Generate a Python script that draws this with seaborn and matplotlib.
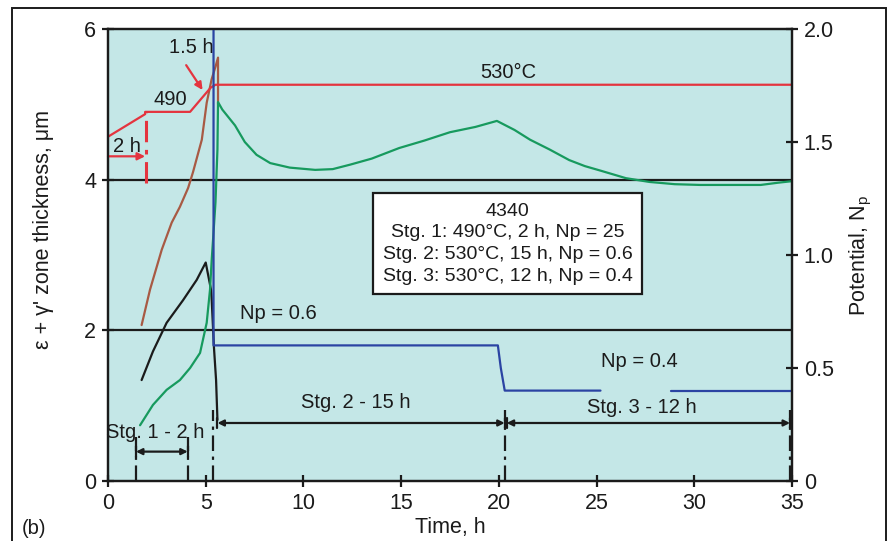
import matplotlib
matplotlib.use("Agg")
import matplotlib.pyplot as plt
from matplotlib.patches import Rectangle
import numpy as np
import pandas as pd
import seaborn as sns

# ---- data -------------------------------------------------------------
# brown trace (stage 1, 490 °C, Np = 25)
brown_t = [1.72, 2.15, 2.75, 3.26, 3.68, 4.10, 4.35, 4.80, 5.05, 5.30, 5.50, 5.63, 5.63]
brown_y = [2.07, 2.54, 3.07, 3.43, 3.64, 3.89, 4.10, 4.53, 5.02, 5.33, 5.50, 5.62, 5.00]

# black trace
black_t = [1.72, 2.30, 3.00, 3.84, 4.54, 5.00, 5.27, 5.30, 5.42, 5.53, 5.60]
black_y = [1.34, 1.72, 2.10, 2.40, 2.67, 2.90, 2.54, 2.44, 1.78, 1.34, 0.81]

# green trace (full three-stage cycle)
green_t = [1.64, 2.30, 3.00, 3.68, 4.20, 4.71, 5.05, 5.22, 5.31, 5.40, 5.50, 5.60, 5.63,
           5.85, 6.50, 7.00, 7.60, 8.30, 9.30, 10.6, 11.5, 12.4, 13.5, 14.9, 16.2, 17.5,
           18.8, 19.9, 20.8, 21.6, 22.6, 23.6, 24.4, 25.2, 26.5, 27.7, 29.0, 30.3, 31.8,
           33.4, 34.3, 35.0]
green_y = [0.74, 1.01, 1.21, 1.34, 1.50, 1.70, 2.10, 2.54, 2.95, 3.30, 3.70, 4.40, 5.03,
           4.93, 4.72, 4.50, 4.33, 4.22, 4.16, 4.13, 4.14, 4.20, 4.28, 4.42, 4.52, 4.63,
           4.70, 4.78, 4.66, 4.53, 4.40, 4.26, 4.18, 4.12, 4.02, 3.97, 3.94, 3.93, 3.93,
           3.93, 3.96, 3.98]

# temperature trace, plotted against the thickness axis
temp_t = [0.0, 1.90, 1.90, 4.20, 5.25, 5.50, 35.0]
temp_y = [4.57, 4.87, 4.90, 4.90, 5.22, 5.26, 5.26]

# nitriding potential (right axis)
np_t = [5.40, 5.40, 19.95, 20.10, 20.30, 25.2, 28.8, 35.0]
np_v = [25.0, 0.60, 0.60, 0.50, 0.40, 0.40, 0.40, 0.40]
np_seg = [0, 0, 0, 0, 0, 0, 1, 1]

# stage boundaries (h)
stage1_bounds = [1.43, 4.08]
stage2_bounds = [5.60, 20.30]
stage3_bounds = [20.30, 34.90]
stage_marks = [5.37, 20.30, 34.90]

x_ticks = [0, 5, 10, 15, 20, 25, 30, 35]
y_ticks = [0, 2, 4, 6]
np_ticks = [0, 0.5, 1.0, 1.5, 2.0]
np_ticklabels = ["0", "0.5", "1.0", "1.5", "2.0"]

box_lines = ["4340",
             "Stg. 1: 490°C, 2 h, Np = 25",
             "Stg. 2: 530°C, 15 h, Np = 0.6",
             "Stg. 3: 530°C, 12 h, Np = 0.4"]

# ---- style ------------------------------------------------------------
sns.set_theme(style="ticks")
plt.rcParams["font.family"] = ["Liberation Sans", "DejaVu Sans"]
plt.rcParams["mathtext.fontset"] = "custom"
plt.rcParams["mathtext.rm"] = "Liberation Sans"

BG = "#c4e7e7"
RED = "#e4343f"
BLUE = "#2b44a3"
GREEN = "#179a5e"
BROWN = "#a85a44"
INK = "#1b1b1b"
DASHDOT = (0, (7, 2.5, 1.5, 2.5))
FS = 14.5

fig = plt.figure(figsize=(8.9, 5.41), dpi=100)
ax = fig.add_axes([108 / 890, 1 - 481 / 541, (792 - 108) / 890, (481 - 29) / 541])
ax.set_facecolor(BG)
ax2 = ax.twinx()

# reference lines at 2 and 4 µm
for yv in (2, 4):
    ax.axhline(yv, color=INK, lw=1.6, zorder=1)

lw = 1.6
sns.lineplot(x=brown_t, y=brown_y, ax=ax, color=BROWN, lw=lw, sort=False, estimator=None)
sns.lineplot(x=black_t, y=black_y, ax=ax, color=INK, lw=lw, sort=False, estimator=None)
sns.lineplot(x=green_t, y=green_y, ax=ax, color=GREEN, lw=lw, sort=False, estimator=None)
sns.lineplot(x=temp_t, y=temp_y, ax=ax, color=RED, lw=lw, sort=False, estimator=None)

np_df = pd.DataFrame({"t": np_t, "Np": np_v, "seg": np_seg})
sns.lineplot(data=np_df, x="t", y="Np", units="seg", estimator=None, sort=False,
             ax=ax2, color=BLUE, lw=lw)

# temperature annotations
ax.annotate("", xy=(1.90, 4.31), xytext=(0.0, 4.31),
            arrowprops=dict(arrowstyle="-|>", color=RED, lw=1.6,
                            mutation_scale=11, shrinkA=0, shrinkB=0))
ax.plot([1.94, 1.94], [3.96, 4.90], color=RED, lw=2.2, ls=DASHDOT)
ax.annotate("", xy=(4.84, 5.19), xytext=(4.0, 5.52),
            arrowprops=dict(arrowstyle="-|>", color=RED, lw=1.6,
                            mutation_scale=11, shrinkA=0, shrinkB=0))
ax.text(0.98, 4.44, "2 h", ha="center", va="center", fontsize=FS, color=INK)
ax.text(3.2, 5.06, "490", ha="center", va="center", fontsize=FS, color=INK)
ax.text(4.25, 5.75, "1.5 h", ha="center", va="center", fontsize=FS, color=INK)
ax.text(20.5, 5.42, "530°C", ha="center", va="center", fontsize=FS, color=INK)

# potential annotations
ax.text(8.7, 2.22, "Np = 0.6", ha="center", va="center", fontsize=FS, color=INK)
ax.text(27.2, 1.58, "Np = 0.4", ha="center", va="center", fontsize=FS, color=INK)

# stage spans
for x in stage1_bounds:
    ax.plot([x, x], [0, 0.58], color=INK, lw=1.6, ls=DASHDOT)
for x in stage_marks:
    ax.plot([x, x], [0, 0.94], color=INK, lw=1.6, ls=DASHDOT)

def span(x0, x1, y):
    ax.annotate("", xy=(x1, y), xytext=(x0, y),
                arrowprops=dict(arrowstyle="<|-|>", color=INK, lw=1.6,
                                mutation_scale=9, shrinkA=0, shrinkB=0))
    for x in (x0, x1):
        ax.plot([x, x], [y - 0.07, y + 0.07], color=INK, lw=1.6)

span(stage1_bounds[0], stage1_bounds[1], 0.39)
span(stage2_bounds[0], stage2_bounds[1], 0.77)
span(stage3_bounds[0] + 0.1, stage3_bounds[1], 0.77)
ax.text(2.4, 0.65, "Stg. 1 - 2 h", ha="center", va="center", fontsize=FS, color=INK)
ax.text(12.7, 1.04, "Stg. 2 - 15 h", ha="center", va="center", fontsize=FS, color=INK)
ax.text(27.3, 0.97, "Stg. 3 - 12 h", ha="center", va="center", fontsize=FS, color=INK)

# process summary box
ax.text(20.45, 3.15, "\n".join(box_lines), ha="center", va="center", fontsize=14,
        color=INK, linespacing=1.36,
        bbox=dict(boxstyle="square,pad=0.5", fc="white", ec=INK, lw=1.6))

# axes
ax.set_xlim(0, 35)
ax.set_ylim(0, 6)
ax2.set_ylim(0, 2.0)
ax.set_xticks(x_ticks)
ax.set_yticks(y_ticks)
ax2.set_yticks(np_ticks)
ax2.set_yticklabels(np_ticklabels)
ax.set_xlabel("Time, h", fontsize=15.5, color=INK, labelpad=2)
ax.set_ylabel("ε + γ' zone thickness, μm", fontsize=15.5, color=INK)
ax.yaxis.set_label_coords(-0.079, 0.556)
ax2.set_ylabel(r"Potential, N$_\mathregular{p}$", fontsize=15.5, color=INK, labelpad=10)
for a in (ax, ax2):
    a.tick_params(direction="inout", length=9, width=1.6, labelsize=15.5, colors=INK, pad=4)
    for s in a.spines.values():
        s.set_linewidth(1.6)
        s.set_color(INK)
    a.grid(False)

# panel frame and tag
fig.patches.append(Rectangle((12 / 890, -0.01), (886 - 12) / 890, 1 - 8 / 541 + 0.01,
                             transform=fig.transFigure, fill=False, ec=INK, lw=1.4))
fig.text(22 / 890, 1 - 528 / 541, "(b)", ha="left", va="center", fontsize=FS, color=INK)

fig.savefig("out.png", dpi=100, facecolor="white")
